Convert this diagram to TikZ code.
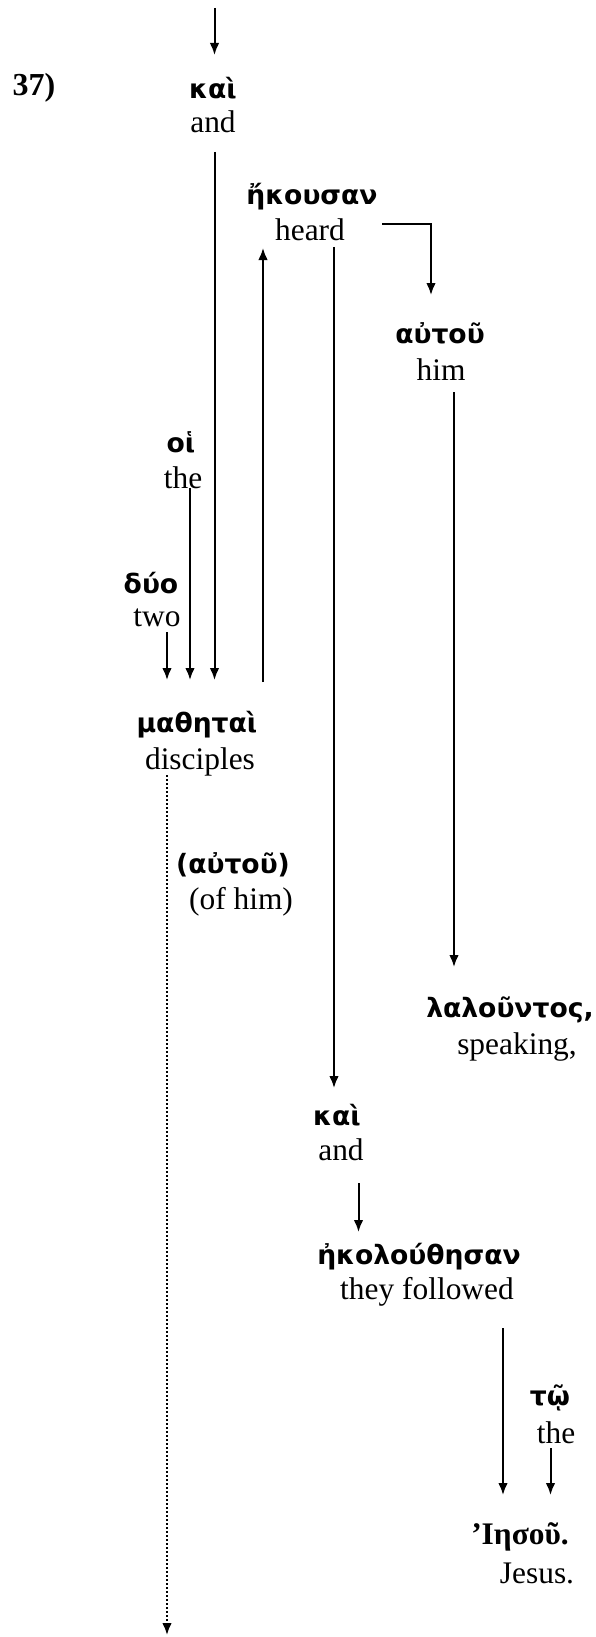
\documentclass[tikz,border=0pt]{standalone}
\usepackage{fontspec}
\setmainfont{Liberation Serif}
\newfontfamily\grk[Script=Greek]{DejaVu Sans}
\newfontfamily\grserif[Script=Greek]{Liberation Serif}
\usetikzlibrary{arrows.meta}
\begin{document}
\begin{tikzpicture}[x=0.5pt,y=-0.5pt,
  gk/.style={inner sep=0pt,anchor=center,font=\grk\bfseries\fontsize{13.3}{15}\selectfont},
  gks/.style={inner sep=0pt,anchor=center,font=\grserif\bfseries\fontsize{15.7}{18}\selectfont},
  en/.style={inner sep=0pt,anchor=center,font=\fontsize{15.7}{18}\selectfont},
  num/.style={inner sep=0pt,anchor=center,font=\bfseries\fontsize{16}{18}\selectfont},
  arr/.style={-{Latex[length=6pt,width=4.8pt]},line width=1pt},
  dots/.style={-{Latex[length=6pt,width=4.8pt]},line width=1pt,dash pattern=on 1pt off 1pt}]
\useasboundingbox (0,0) rectangle (595,1637);
% nodes
\node[num] (n37) at (34,88) {37)};
\node[gk] (kai1) at (213,88) {καὶ};
\node[en] (and1) at (213,122) {and};
\node[gk] (ekousan) at (312,197) {ἤκουσαν};
\node[en] (heard) at (310,230) {heard};
\node[gk] (auton) at (440,333) {αὐτοῦ};
\node[en] (him) at (441,370) {him};
\node[gk] (hoi) at (181,442) {οἱ};
\node[en] (the1) at (183,478) {the};
\node[gk] (duo) at (151,583) {δύο};
\node[en] (two) at (157,618) {two};
\node[gk] (math) at (197,725) {μαθηταὶ};
\node[en] (disc) at (200,762) {disciples};
\node[gk] (autou2) at (233,865) {(αὐτοῦ)};
\node[en] (ofhim) at (241,902) {(of him)};
\node[gk] (lal) at (510,1010) {λαλοῦντος,};
\node[en] (speak) at (517,1047) {speaking,};
\node[gk] (kai2) at (337,1115) {καὶ};
\node[en] (and2) at (341,1150) {and};
\node[gk] (ekol) at (419,1257) {ἠκολούθησαν};
\node[en] (follow) at (427,1292) {they followed};
\node[gk] (to) at (550,1398) {τῷ};
\node[en] (the2) at (556,1433) {the};
\node[gks] (iesou) at (520,1537) {’Ιησοῦ.};
\node[en] (jesus) at (537,1573) {Jesus.};
% connector end points
\coordinate (inS) at (214.5,8);
\coordinate (inE) at (214.5,55);
\coordinate (kai1S) at (214.5,152);
\coordinate (kai1E) at (214.5,680);
\coordinate (mathUS) at (263,682);
\coordinate (mathUE) at (263,248);
\coordinate (heardR) at (382,224);
\coordinate (autonT) at (431,295);
\coordinate (heardS) at (334,247);
\coordinate (kai2T) at (334,1088);
\coordinate (himS) at (454,392);
\coordinate (lalT) at (454,967);
\coordinate (the1S) at (190,488);
\coordinate (the1E) at (190,680);
\coordinate (twoS) at (167,632);
\coordinate (twoE) at (167,680);
\coordinate (discS) at (167,775);
\coordinate (discE) at (167,1635);
\coordinate (and2S) at (358.5,1183);
\coordinate (ekolT) at (358.5,1232);
\coordinate (followS) at (503,1328);
\coordinate (iesouT1) at (503,1495);
\coordinate (the2S) at (550.5,1448);
\coordinate (iesouT2) at (550.5,1495);
% connectors
\draw[arr] (inS) -- (inE);
\draw[arr] (kai1S) -- (kai1E);
\draw[arr] (mathUS) -- (mathUE);
\draw[arr] (heardR) -| (autonT);
\draw[arr] (heardS) -- (kai2T);
\draw[arr] (himS) -- (lalT);
\draw[arr] (the1S) -- (the1E);
\draw[arr] (twoS) -- (twoE);
\draw[dots] (discS) -- (discE);
\draw[arr] (and2S) -- (ekolT);
\draw[arr] (followS) -- (iesouT1);
\draw[arr] (the2S) -- (iesouT2);
\end{tikzpicture}
\end{document}
